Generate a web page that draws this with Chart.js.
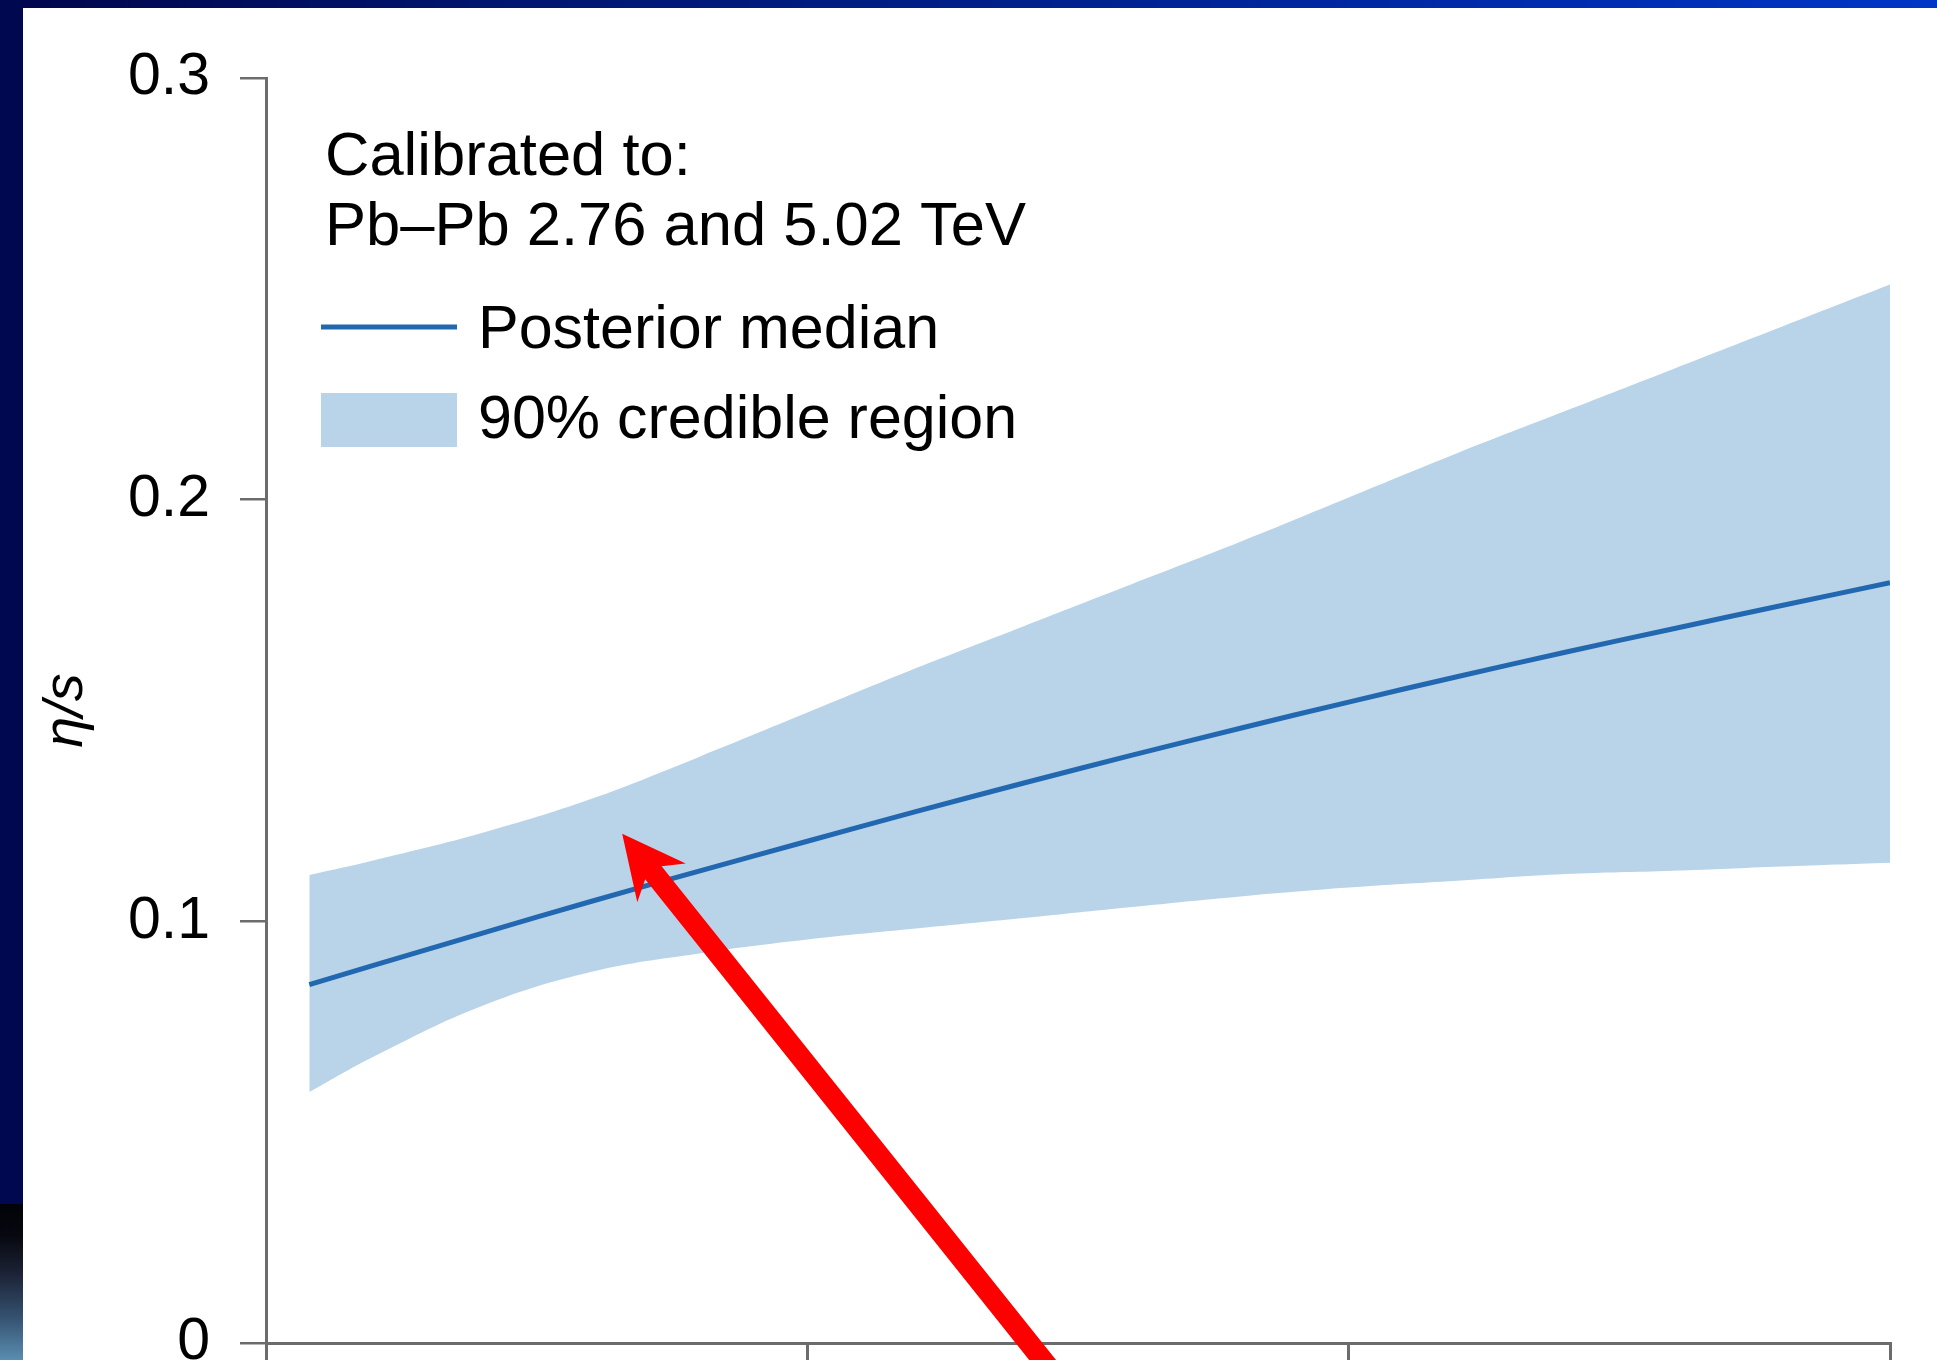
<!DOCTYPE html>
<html>
<head>
<meta charset="utf-8">
<title>η/s posterior</title>
<script src="https://cdn.jsdelivr.net/npm/chart.js@4.4.1/dist/chart.umd.min.js"></script>
<style>
  html, body { margin: 0; padding: 0; background: #ffffff; }
  body { width: 1937px; height: 1360px; position: relative; overflow: hidden; }
  #plot { position: absolute; left: 0; top: 0; }
  .slide-top { position: absolute; left: 0; top: 0; width: 1937px; height: 8px; z-index: 2;
    background: linear-gradient(90deg, #00064c 0%, #000a55 7%, #00156e 25%, #001f88 50%, #002aa8 75%, #0036c6 100%); }
  .slide-left { position: absolute; left: 0; top: 0; width: 23px; height: 1204px; z-index: 2; background: #000850; }
  .slide-photo { position: absolute; left: 0; top: 1204px; width: 23px; height: 156px; z-index: 2;
    background: linear-gradient(180deg, #020308 0%, #07080f 20%, #1c2336 45%, #34506e 72%, #5a8db0 100%); }
</style>
</head>
<body>
<div class="slide-top"></div>
<div class="slide-left"></div>
<div class="slide-photo"></div>
<canvas id="plot" width="1937" height="1360"></canvas>
<script>
// Temperature grid T (GeV) and the η/s posterior: median and 90% band limits
const temperature = [0.154, 0.16, 0.17, 0.18, 0.19, 0.20, 0.21, 0.22, 0.23, 0.24, 0.25, 0.26, 0.27, 0.28, 0.29, 0.30];
const bandUpper   = [0.111, 0.1145, 0.121, 0.129, 0.139, 0.1495, 0.160, 0.170, 0.180, 0.190, 0.2005, 0.211, 0.221, 0.231, 0.241, 0.251];
const bandLower   = [0.0595, 0.068, 0.080, 0.088, 0.0924, 0.0957, 0.0983, 0.1008, 0.1034, 0.1059, 0.1080, 0.1096, 0.1112, 0.1120, 0.1130, 0.1139];
const median      = [0.0850, 0.0896, 0.0972, 0.1047, 0.1119, 0.1190, 0.1260, 0.1328, 0.1394, 0.1458, 0.1520, 0.1580, 0.1638, 0.1694, 0.1749, 0.1803];

const xTicks = [0.15, 0.20, 0.25, 0.30];
const yTicks = [0, 0.1, 0.2, 0.3];
const yTickLabels = ['0', '0.1', '0.2', '0.3'];

const legendHeader = ['Calibrated to:', 'Pb\u2013Pb 2.76 and 5.02 TeV'];

// Pointer annotation: head and tail in data units (T, η/s)
const arrowHead = [0.1829, 0.1208];
const arrowTail = [0.2267, -0.02];

const FONT = '"Liberation Sans", Arial, Helvetica, sans-serif';
const AXIS = '#6c6c6c';
const BAND = '#b9d4e9';
const LINE = '#2268b0';

const pts = vals => temperature.map((t, i) => ({ x: t, y: vals[i] }));

// Legend drawn inside the plot area, top-left
const insetLegend = {
  id: 'insetLegend',
  afterDraw(chart) {
    const { ctx, chartArea } = chart;
    const x0 = chartArea.left + 55;
    ctx.save();
    ctx.fillStyle = '#000';
    ctx.textBaseline = 'alphabetic';
    ctx.textAlign = 'left';
    ctx.font = '61.5px ' + FONT;
    ctx.fillText(legendHeader[0], x0 + 4, chartArea.top + 97);
    ctx.fillText(legendHeader[1], x0 + 4, chartArea.top + 167);

    const med = chart.data.datasets[2];
    const band = chart.data.datasets[0];
    ctx.font = '61px ' + FONT;
    // median entry
    ctx.strokeStyle = med.borderColor;
    ctx.lineWidth = 5;
    ctx.beginPath();
    ctx.moveTo(x0, chartArea.top + 249);
    ctx.lineTo(x0 + 136, chartArea.top + 249);
    ctx.stroke();
    ctx.fillStyle = '#000';
    ctx.fillText(med.label, x0 + 157, chartArea.top + 270);
    // band entry
    ctx.fillStyle = band.backgroundColor;
    ctx.fillRect(x0, chartArea.top + 315, 136, 54);
    ctx.fillStyle = '#000';
    ctx.fillText(band.label, x0 + 157, chartArea.top + 360);
    ctx.restore();
  }
};

// Red pointer arrow, positioned through the axes
const pointerArrow = {
  id: 'pointerArrow',
  afterDraw(chart) {
    const { ctx, scales } = chart;
    const hx = scales.x.getPixelForValue(arrowHead[0]);
    const hy = scales.y.getPixelForValue(arrowHead[1]);
    const tx = scales.x.getPixelForValue(arrowTail[0]);
    const ty = scales.y.getPixelForValue(arrowTail[1]);
    const len = Math.hypot(tx - hx, ty - hy);
    const ux = (tx - hx) / len, uy = (ty - hy) / len;
    const vx = -uy, vy = ux;
    const headLen = 63, headHalf = 31, notch = 50, shaftHalf = 10.5;
    const p = (a, b) => [hx + ux * a + vx * b, hy + uy * a + vy * b];
    const poly = [
      [hx, hy],
      p(headLen, headHalf),
      p(notch, shaftHalf),
      [tx + vx * shaftHalf, ty + vy * shaftHalf],
      [tx - vx * shaftHalf, ty - vy * shaftHalf],
      p(notch, -shaftHalf),
      p(headLen, -headHalf)
    ];
    ctx.save();
    ctx.fillStyle = '#ff0000';
    ctx.beginPath();
    poly.forEach(([x, y], i) => (i ? ctx.lineTo(x, y) : ctx.moveTo(x, y)));
    ctx.closePath();
    ctx.fill();
    ctx.restore();
  }
};

new Chart(document.getElementById('plot'), {
  type: 'line',
  data: {
    datasets: [
      {
        label: '90% credible region',
        data: pts(bandUpper),
        borderWidth: 0,
        borderColor: 'rgba(0,0,0,0)',
        backgroundColor: BAND,
        pointRadius: 0,
        fill: '+1',
        tension: 0.4,
        order: 1
      },
      {
        label: 'lower limit',
        data: pts(bandLower),
        borderWidth: 0,
        borderColor: 'rgba(0,0,0,0)',
        backgroundColor: BAND,
        pointRadius: 0,
        fill: false,
        tension: 0.4,
        order: 2
      },
      {
        label: 'Posterior median',
        data: pts(median),
        borderColor: LINE,
        borderWidth: 5,
        pointRadius: 0,
        fill: false,
        tension: 0.4,
        order: 0
      }
    ]
  },
  options: {
    responsive: false,
    animation: false,
    devicePixelRatio: 1,
    layout: { padding: { top: 78, right: 47, left: 0, bottom: 0 } },
    plugins: {
      legend: { display: false },
      tooltip: { enabled: false }
    },
    scales: {
      x: {
        type: 'linear',
        min: 0.15,
        max: 0.30,
        afterBuildTicks: s => { s.ticks = xTicks.map(v => ({ value: v })); },
        ticks: { display: false },
        grid: { drawOnChartArea: false, drawTicks: true, tickLength: 17, color: AXIS, lineWidth: 3 },
        border: { display: true, color: AXIS, width: 3 },
        afterFit: s => { s.height = 17; s.paddingLeft = 0; s.paddingRight = 0; }
      },
      y: {
        type: 'linear',
        min: 0,
        max: 0.3,
        afterBuildTicks: s => { s.ticks = yTicks.map(v => ({ value: v })); },
        ticks: {
          font: { family: FONT, size: 59 },
          color: '#000',
          padding: 30,
          callback: (v, i) => yTickLabels[i]
        },
        grid: { drawOnChartArea: false, drawTicks: true, tickLength: 26, color: AXIS, lineWidth: 2.5 },
        border: { display: true, color: AXIS, width: 3 },
        title: {
          display: true,
          text: 'η/s',
          color: '#000',
          font: { family: FONT, size: 56, style: 'italic' },
          padding: { top: 33, bottom: 0 }
        },
        afterFit: s => { s.width = 266; s.paddingTop = 0; s.paddingBottom = 0; }
      }
    }
  },
  plugins: [insetLegend, pointerArrow]
});
</script>
</body>
</html>
